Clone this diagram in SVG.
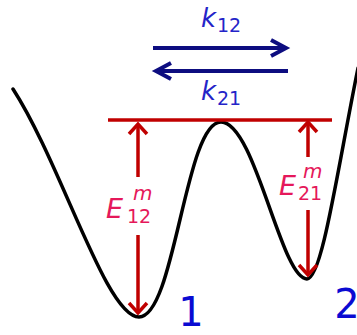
<svg xmlns="http://www.w3.org/2000/svg" width="357" height="335" viewBox="0 0 357 335">
<style>
.curve{fill:none;stroke:#000;stroke-width:3.5;stroke-linecap:round}
.red{fill:none;stroke:#c00000;stroke-width:3.5}
.navy{fill:none;stroke:#0d0d80;stroke-width:4}
.lab{font-family:"DejaVu Sans",Verdana,sans-serif}
.k{fill:#2424c8;font-style:italic}
.e{fill:#e5185a;font-style:italic}
.num{fill:#0a0ad2}
</style>
<rect width="357" height="335" fill="#fff"/>
<g id="potential">
<path class="curve" d="M13,89 C62,165 106,317 139,317 C175,317 185,122 221,122 C255,122 281,279 307,279 C322,279 337,172 358,68"/>
</g>
<g id="barrier-line">
<line class="red" x1="108" y1="120" x2="332" y2="120"/>
</g>
<g id="connectors">
<g id="k12-arrow">
<line class="navy" x1="153" y1="48" x2="285" y2="48"/>
<polyline class="navy" points="271,40 286,48 271,56"/>
</g>
<g id="k21-arrow">
<line class="navy" x1="156" y1="71" x2="288" y2="71"/>
<polyline class="navy" points="171,63 156,71 171,79"/>
</g>
<g id="E12-arrow">
<line class="red" x1="138" y1="125" x2="138" y2="177"/>
<polyline class="red" points="129,134 138,124 147,134"/>
<line class="red" x1="138" y1="235" x2="138" y2="312"/>
<polyline class="red" points="129,303 138,313 147,303"/>
</g>
<g id="E21-arrow">
<line class="red" x1="308" y1="123" x2="308" y2="157"/>
<polyline class="red" points="299,132 308,122 317,132"/>
<line class="red" x1="308" y1="210" x2="308" y2="274"/>
<polyline class="red" points="299,265 308,275 317,265"/>
</g>
</g>
<g id="k12-label" class="lab k">
<text x="201" y="27" font-size="26">k</text>
<text x="217" y="32" font-size="19" font-style="normal">12</text>
</g>
<g id="k21-label" class="lab k">
<text x="201" y="100" font-size="26">k</text>
<text x="217" y="105" font-size="19" font-style="normal">21</text>
</g>
<g id="E12-label" class="lab e">
<text x="106" y="218" font-size="27">E</text>
<text x="133" y="200" font-size="20">m</text>
<text x="127" y="223" font-size="19" font-style="normal">12</text>
</g>
<g id="E21-label" class="lab e">
<text x="279" y="195" font-size="27">E</text>
<text x="303" y="178" font-size="20">m</text>
<text x="298" y="200" font-size="19" font-style="normal">21</text>
</g>
<g id="state1" class="lab num"><text x="191" y="326" font-size="40" text-anchor="middle">1</text></g>
<g id="state2" class="lab num"><text x="347" y="318" font-size="40" text-anchor="middle">2</text></g>
</svg>
